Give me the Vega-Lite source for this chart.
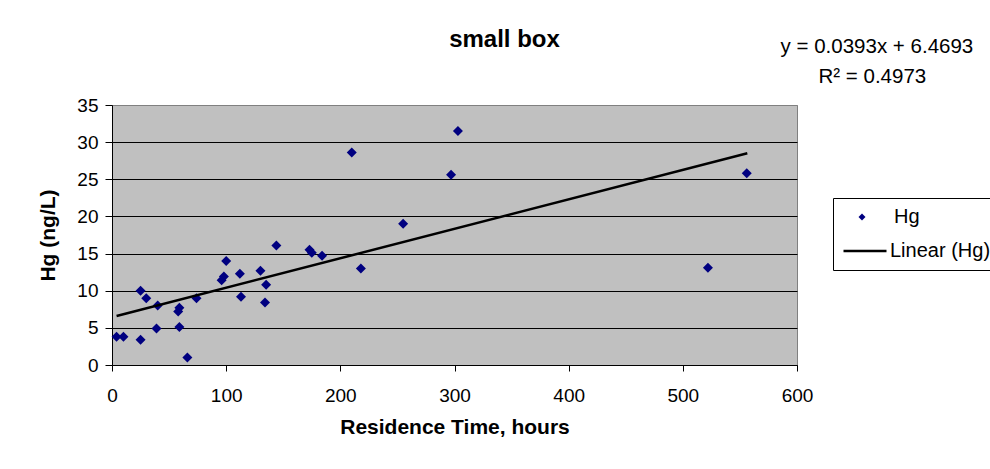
{
  "$schema": "https://vega.github.io/schema/vega-lite/v6.json",
  "width": 685,
  "height": 260,
  "autosize": {"type": "none"},
  "padding": {"left": 112, "top": 105, "right": 193, "bottom": 104},
  "background": "white",
  "datasets": {
    "hg": [
      {"time": 4, "hg": 3.8},
      {"time": 10, "hg": 3.8},
      {"time": 25, "hg": 3.4},
      {"time": 25, "hg": 10.0},
      {"time": 30, "hg": 9.0},
      {"time": 39, "hg": 4.9},
      {"time": 40, "hg": 8.0},
      {"time": 58, "hg": 7.2},
      {"time": 59, "hg": 7.7},
      {"time": 59, "hg": 5.1},
      {"time": 66, "hg": 1.0},
      {"time": 74, "hg": 9.0},
      {"time": 96, "hg": 11.4},
      {"time": 98, "hg": 11.9},
      {"time": 100, "hg": 14.0},
      {"time": 112, "hg": 12.3},
      {"time": 113, "hg": 9.2},
      {"time": 130, "hg": 12.7},
      {"time": 135, "hg": 10.8},
      {"time": 134, "hg": 8.4},
      {"time": 144, "hg": 16.1},
      {"time": 173, "hg": 15.5},
      {"time": 175, "hg": 15.1},
      {"time": 184, "hg": 14.7},
      {"time": 210, "hg": 28.6},
      {"time": 218, "hg": 13.0},
      {"time": 255, "hg": 19.0},
      {"time": 297, "hg": 25.6},
      {"time": 303, "hg": 31.5},
      {"time": 522, "hg": 13.1},
      {"time": 556, "hg": 25.8}
    ],
    "trend": [
      {"time": 4, "hg": 6.6},
      {"time": 556.5, "hg": 28.5}
    ]
  },
  "title": {
    "text": "small box",
    "font": "Liberation Sans",
    "fontSize": 24,
    "fontWeight": "bold",
    "color": "black",
    "anchor": "middle",
    "frame": "group",
    "dx": 50,
    "offset": -15
  },
  "config": {
    "font": "Liberation Sans",
    "view": {"fill": "#C0C0C0", "stroke": "#808080", "strokeWidth": 1},
    "axis": {
      "labelFont": "Liberation Sans",
      "titleFont": "Liberation Sans",
      "labelColor": "black",
      "titleColor": "black",
      "domainColor": "black",
      "tickColor": "black",
      "labelFontSize": 19,
      "titleFontSize": 21,
      "titleFontWeight": "bold",
      "labelFlush": false,
      "labelOverlap": false
    },
    "legend": {
      "labelFont": "Liberation Sans",
      "labelFontSize": 20,
      "labelColor": "black",
      "titleFont": "Liberation Sans"
    }
  },
  "resolve": {"scale": {"color": "independent"}, "legend": {"color": "independent"}},
  "layer": [
    {
      "data": {"name": "hg"},
      "mark": {"type": "point", "shape": "diamond", "filled": true, "size": 100, "opacity": 1},
      "encoding": {
        "x": {
          "field": "time",
          "type": "quantitative",
          "scale": {"domain": [0, 600], "nice": false},
          "axis": {
            "title": "Residence Time, hours",
            "values": [0, 100, 200, 300, 400, 500, 600],
            "tickCount": 20,
            "grid": false,
            "tickSize": 6,
            "labelPadding": 15,
            "titlePadding": 11
          }
        },
        "y": {
          "field": "hg",
          "type": "quantitative",
          "scale": {"domain": [0, 35], "nice": false},
          "axis": {
            "title": "Hg (ng/L)",
            "values": [0, 5, 10, 15, 20, 25, 30, 35],
            "tickCount": 20,
            "grid": true,
            "gridColor": {"condition": {"test": "datum.value === 35", "value": "#808080"}, "value": "#000000"},
            "gridOpacity": 1,
            "gridWidth": 1,
            "tickSize": 7,
            "labelPadding": 7,
            "titlePadding": 18
          }
        },
        "color": {
          "datum": "Hg",
          "scale": {"domain": ["Hg"], "range": ["#000080"]},
          "legend": {
            "title": null,
            "orient": "none",
            "legendX": 740,
            "legendY": 98,
            "padding": 0,
            "symbolSize": 49,
            "symbolOpacity": 1,
            "labelOffset": 22,
            "clipHeight": 28
          }
        }
      }
    },
    {
      "data": {"name": "trend"},
      "mark": {"type": "line", "strokeWidth": 2.5},
      "encoding": {
        "x": {"field": "time", "type": "quantitative"},
        "y": {"field": "hg", "type": "quantitative"},
        "color": {
          "datum": "Linear (Hg)",
          "scale": {"domain": ["Linear (Hg)"], "range": ["#000000"]},
          "legend": {
            "title": " ",
            "titleFontSize": 20,
            "titlePadding": 14,
            "orient": "none",
            "legendX": 721,
            "legendY": 93,
            "strokeColor": "black",
            "padding": 5,
            "symbolOffset": 4,
            "symbolType": "stroke",
            "symbolSize": 1849,
            "symbolStrokeWidth": 2.5,
            "labelOffset": 2,
            "clipHeight": 28
          }
        }
      }
    },
    {
      "data": {"values": [{}]},
      "mark": {"type": "text", "text": "y = 0.0393x + 6.4693", "font": "Liberation Sans", "fontSize": 20.5, "color": "black", "align": "center", "baseline": "middle"},
      "encoding": {"x": {"datum": 670}, "y": {"datum": 42.8}}
    },
    {
      "data": {"values": [{}]},
      "mark": {"type": "text", "text": "R² = 0.4973", "font": "Liberation Sans", "fontSize": 20.5, "color": "black", "align": "center", "baseline": "middle"},
      "encoding": {"x": {"datum": 666}, "y": {"datum": 38.8}}
    }
  ]
}
